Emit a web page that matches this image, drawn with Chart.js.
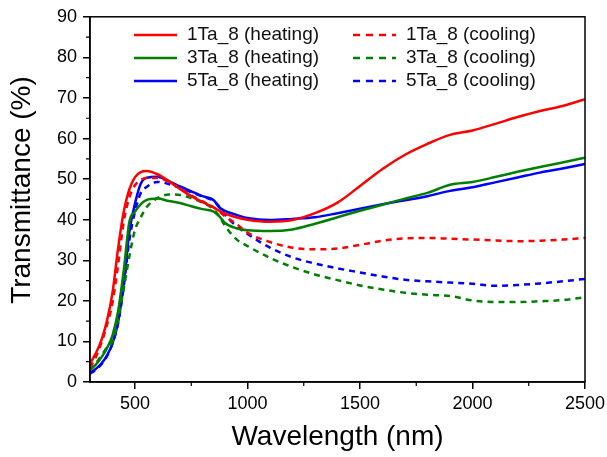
<!DOCTYPE html>
<html>
<head>
<meta charset="utf-8">
<script src="https://cdn.jsdelivr.net/npm/chart.js@4.4.1/dist/chart.umd.min.js"></script>
<style>
  html, body { margin: 0; padding: 0; background: #fff; }
  #wrap { width: 607px; height: 457px; }
</style>
</head>
<body>
<div id="wrap"><canvas id="transChart"></canvas></div>
<script>
const wavelengths = [300, 325, 350, 375, 400, 425, 450, 475, 500, 525, 550, 600, 650, 700, 750, 800, 850, 875, 900, 950, 1000, 1100, 1200, 1300, 1400, 1500, 1600, 1700, 1800, 1900, 2000, 2100, 2200, 2300, 2400, 2500];

const ta1Heating = [4.5, 7, 10.2, 15, 22, 33, 42, 47.5, 50.5, 51.7, 52, 51.2, 49.5, 47.6, 45.8, 44.3, 43, 42.2, 41.5, 40.6, 40, 39.5, 39.9, 41.6, 44.2, 48.3, 52.5, 56, 58.7, 60.9, 62, 63.6, 65.3, 66.8, 68, 69.7];
const ta1Cooling = [3.5, 6, 9.5, 14, 19.5, 29, 39.5, 45.5, 48.5, 49.8, 50.3, 50.3, 49.3, 47.7, 46, 44.5, 43, 42, 40.8, 39, 36.8, 34.5, 33.1, 32.7, 32.9, 33.8, 34.8, 35.4, 35.5, 35.3, 35.1, 34.9, 34.7, 34.8, 35.1, 35.5];
const ta3Heating = [3, 4.2, 6, 8.3, 11.5, 17.5, 27.5, 39.5, 42, 43.8, 44.8, 45.2, 44.6, 44.1, 43.3, 42.6, 42, 40.8, 39.2, 37.9, 37.4, 37.2, 37.6, 39, 40.6, 42.2, 43.7, 45.2, 46.6, 48.6, 49.3, 50.5, 51.8, 53, 54.1, 55.3];
const ta3Cooling = [2.8, 4.5, 6.5, 8.5, 10, 15.5, 23, 31, 37.5, 40.5, 43, 45.3, 46.2, 46.1, 45.3, 44.2, 42.5, 40.8, 38.5, 35.2, 33.5, 30.6, 28.3, 26.5, 25.1, 23.8, 22.8, 22, 21.5, 21.2, 20.1, 19.7, 19.7, 19.9, 20.2, 20.9];
const ta5Heating = [2.2, 3.2, 4.5, 6.5, 9.5, 14.8, 24.5, 37, 44, 48.8, 50.3, 50.6, 49.5, 48.2, 47, 45.8, 44.8, 43, 42.2, 41.2, 40.4, 39.9, 40.2, 40.6, 41.6, 42.7, 43.8, 44.8, 45.8, 47.1, 48, 49.2, 50.4, 51.6, 52.6, 53.7];
const ta5Cooling = [2, 3, 4.3, 6.3, 9.5, 14.5, 23.5, 35, 42, 46.5, 48, 49.3, 48.8, 47.8, 46.8, 45.7, 44.6, 43.2, 41.2, 38.5, 36.5, 33.1, 30.7, 29.2, 28, 27, 26, 25.2, 24.8, 24.5, 24.2, 23.7, 23.9, 24.3, 24.8, 25.4];

const xTicks = [500, 1000, 1500, 2000, 2500];
const xMinorTicks = [750, 1250, 1750, 2250];
const yTicks = [0, 10, 20, 30, 40, 50, 60, 70, 80, 90];

const FONT = 'Arial, "Liberation Sans", sans-serif';

const toPoints = (vals) => wavelengths.map((w, i) => ({ x: w, y: vals[i] }));

const makeSet = (label, vals, color, dashed) => ({
    label: label,
    data: toPoints(vals),
    borderColor: color,
    backgroundColor: color,
    borderWidth: 2.5,
    borderDash: dashed ? [6, 5] : [],
    pointRadius: 0,
    cubicInterpolationMode: 'monotone',
    fill: false
});

// frame, minor ticks, y title and the two-column legend
const extras = {
    id: 'extras',
    afterDraw(chart) {
        const { ctx, chartArea: a, scales } = chart;
        ctx.save();
        ctx.strokeStyle = '#000';
        ctx.lineWidth = 1.5;
        ctx.strokeRect(a.left, a.top, a.right - a.left, a.bottom - a.top);

        ctx.lineWidth = 1.2;
        ctx.beginPath();
        xMinorTicks.forEach(v => {
            const px = scales.x.getPixelForValue(v);
            ctx.moveTo(px, a.bottom);
            ctx.lineTo(px, a.bottom + 4);
        });
        for (let v = 5; v < 90; v += 10) {
            const py = scales.y.getPixelForValue(v);
            ctx.moveTo(a.left, py);
            ctx.lineTo(a.left - 4, py);
        }
        ctx.stroke();

        ctx.fillStyle = '#000';
        ctx.font = '28px ' + FONT;
        ctx.textAlign = 'center';
        ctx.textBaseline = 'middle';
        ctx.translate(22, 190);
        ctx.rotate(-Math.PI / 2);
        ctx.fillText('Transmittance (%)', 0, 0);
        ctx.restore();

        ctx.save();
        ctx.font = '19px ' + FONT;
        ctx.textBaseline = 'middle';
        ctx.fillStyle = '#111';
        const rows = [35, 58, 81];
        chart.data.datasets.forEach((ds, i) => {
            const col = i % 2;
            const y = rows[Math.floor(i / 2)];
            const x0 = col === 0 ? 134 : 353;
            ctx.strokeStyle = ds.borderColor;
            ctx.lineWidth = 2.5;
            ctx.setLineDash(ds.borderDash.length ? [7, 6] : []);
            ctx.beginPath();
            ctx.moveTo(x0, y);
            ctx.lineTo(x0 + 43, y);
            ctx.stroke();
            ctx.fillText(ds.label, x0 + 53, y);
        });
        ctx.restore();
    }
};

new Chart(document.getElementById('transChart'), {
    type: 'line',
    data: {
        datasets: [
            makeSet('1Ta_8 (heating)', ta1Heating, '#ff0000', false),
            makeSet('1Ta_8 (cooling)', ta1Cooling, '#ff0000', true),
            makeSet('3Ta_8 (heating)', ta3Heating, '#008000', false),
            makeSet('3Ta_8 (cooling)', ta3Cooling, '#008000', true),
            makeSet('5Ta_8 (heating)', ta5Heating, '#0000ff', false),
            makeSet('5Ta_8 (cooling)', ta5Cooling, '#0000ff', true)
        ]
    },
    options: {
        responsive: true,
        maintainAspectRatio: false,
        animation: false,
        layout: { padding: { left: 0, top: 14, right: 22, bottom: 0 } },
        plugins: {
            legend: { display: false },
            tooltip: { enabled: false }
        },
        scales: {
            x: {
                type: 'linear',
                min: 300,
                max: 2500,
                afterBuildTicks: (s) => { s.ticks = xTicks.map(v => ({ value: v })); },
                afterFit: (s) => { s.height = 75; s.paddingLeft = 0; s.paddingRight = 0; },
                grid: { drawOnChartArea: false, drawTicks: true, tickLength: 7, color: '#000', lineWidth: 1.5 },
                border: { color: '#000', width: 1.5 },
                ticks: { color: '#000', padding: 4, font: { family: FONT, size: 18 }, maxRotation: 0, callback: (v) => String(v) },
                title: { display: true, text: 'Wavelength (nm)', color: '#000', font: { family: FONT, size: 28 }, padding: { top: 0, bottom: 3 } }
            },
            y: {
                min: 0,
                max: 90,
                afterBuildTicks: (s) => { s.ticks = yTicks.map(v => ({ value: v })); },
                afterFit: (s) => { s.width = 90; },
                grid: { drawOnChartArea: false, drawTicks: true, tickLength: 7, color: '#000', lineWidth: 1.5 },
                border: { color: '#000', width: 1.5 },
                ticks: { color: '#000', padding: 6, font: { family: FONT, size: 18 }, callback: (v) => String(v) }
            }
        }
    },
    plugins: [extras]
});
</script>
</body>
</html>
